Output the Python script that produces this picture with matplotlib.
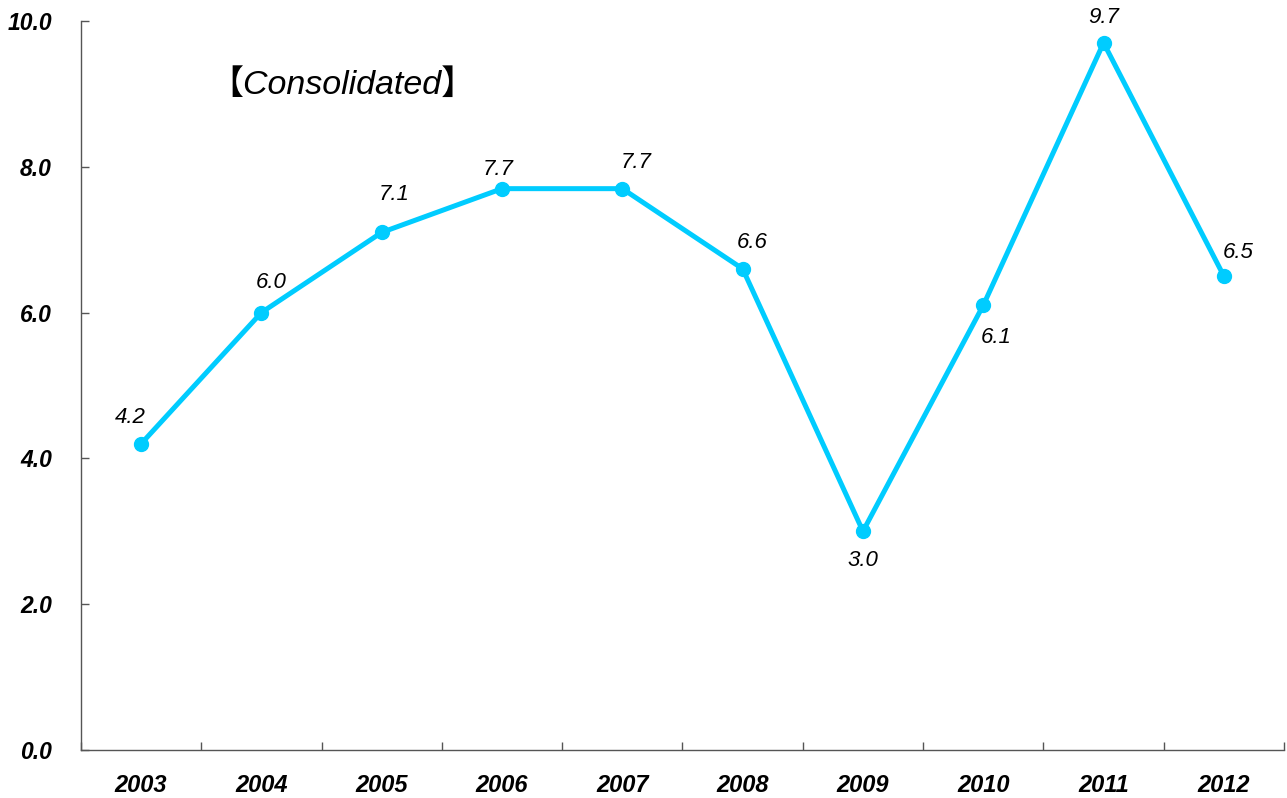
import matplotlib
matplotlib.use("Agg")
import matplotlib.pyplot as plt
import numpy as np

years = ["2003", "2004", "2005", "2006", "2007", "2008", "2009", "2010", "2011", "2012"]
values = [4.2, 6.0, 7.1, 7.7, 7.7, 6.6, 3.0, 6.1, 9.7, 6.5]
y_ticks = [0.0, 2.0, 4.0, 6.0, 8.0, 10.0]
title_text = "【Consolidated】"

# label offsets in points (dx, dy) relative to each marker
label_offsets = [(-8, 19), (7, 22), (9, 27), (-3, 14), (10, 19), (7, 19), (0, -21), (9, -23), (0, 18), (10, 17)]

LINE_COLOR = "#00CCFF"
FONT = ["Liberation Sans", "Noto Sans CJK JP", "DejaVu Sans"]
plt.rcParams["font.family"] = FONT

fig = plt.figure(figsize=(12.87, 7.98), dpi=100)
ax = fig.add_axes([0.0629, 0.0602, 0.9348, 0.9135])

x = np.arange(len(years))
ax.plot(x, values, color=LINE_COLOR, linewidth=3.6, marker="o", markersize=10,
        markerfacecolor=LINE_COLOR, markeredgecolor=LINE_COLOR, solid_joinstyle="miter", zorder=3)

for xi, v, (dx, dy) in zip(x, values, label_offsets):
    ax.annotate(f"{v:.1f}", (xi, v), xytext=(dx, dy), textcoords="offset points",
                ha="center", va="center", fontsize=16, fontstyle="italic", color="black")

ax.set_xlim(-0.5, len(years) - 0.5)
ax.set_ylim(0, 10)

ax.set_yticks(y_ticks)
ax.set_yticklabels([f"{t:.1f}" for t in y_ticks], fontsize=16.5, fontweight="bold", fontstyle="italic")
ax.set_xticks(x)
ax.set_xticklabels(years, fontsize=17, fontweight="bold", fontstyle="italic")
ax.set_xticks(np.arange(len(years) + 1) - 0.5, minor=True)

ax.tick_params(axis="x", which="major", length=0, pad=17)
ax.tick_params(axis="x", which="minor", direction="in", length=6, width=1, color="#555555")
ax.tick_params(axis="y", which="major", direction="in", length=6, width=1, color="#555555", pad=21)

for side in ("top", "right"):
    ax.spines[side].set_visible(False)
for side in ("left", "bottom"):
    ax.spines[side].set_color("#555555")
    ax.spines[side].set_linewidth(1)

fig.text(0.163, 0.893, title_text, fontsize=24.5, fontstyle="italic", ha="left", va="center",
         family=FONT)

fig.savefig("out.png", dpi=100)
